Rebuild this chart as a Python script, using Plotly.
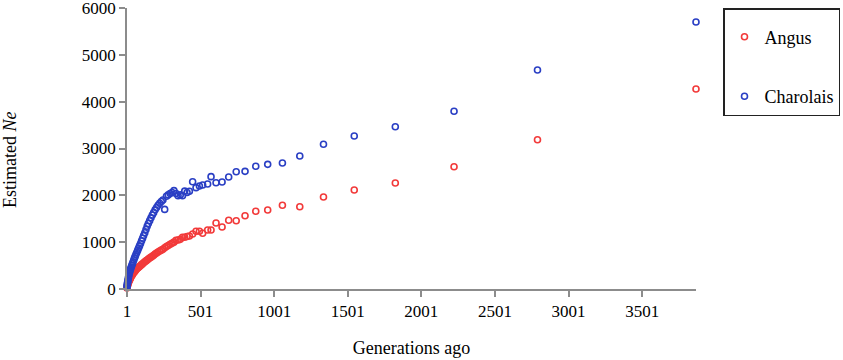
import plotly.graph_objects as go

# Generations ago (shared bins for both breeds)
generations = [1, 2, 3, 4, 5, 6, 8, 10, 12, 14, 17, 20, 23, 26, 30, 34, 38, 42, 47, 52,
               57, 62, 68, 74, 80, 86, 93, 100, 107, 114, 122, 130, 138, 146, 155, 164,
               173, 182, 192, 202, 212, 223, 234, 245, 257, 269, 281, 294, 307, 320, 334,
               348, 363, 378, 393, 409, 425, 447, 470, 493, 515, 549, 572, 606, 647, 692,
               743, 803, 876, 957, 1057, 1175, 1336, 1545, 1824, 2223, 2790, 3867]

angus_ne = [20, 40, 55, 70, 85, 95, 115, 135, 150, 165, 185, 205, 225, 245, 270, 290,
            310, 330, 350, 370, 390, 410, 430, 450, 465, 480, 500, 520, 540, 560, 580,
            600, 620, 640, 660, 680, 700, 720, 745, 770, 790, 810, 830, 850, 880, 905,
            930, 955, 975, 1000, 1040, 1046, 1060, 1104, 1104, 1120, 1132, 1174, 1232,
            1232, 1189, 1260, 1260, 1409, 1324, 1467, 1459, 1565, 1659, 1687, 1787, 1758,
            1965, 2114, 2264, 2612, 3188, 4271]

charolais_ne = [40, 70, 95, 120, 140, 160, 195, 230, 265, 300, 340, 375, 405, 435, 470,
                505, 540, 575, 620, 660, 700, 740, 785, 830, 875, 920, 970, 1030, 1085,
                1140, 1200, 1270, 1340, 1400, 1460, 1520, 1580, 1630, 1690, 1740, 1790,
                1830, 1870, 1900, 1700, 1980, 2010, 2040, 2060, 2100, 2040, 1990, 2010,
                1990, 2090, 2060, 2086, 2291, 2164, 2200, 2220, 2242, 2399, 2270, 2285,
                2392, 2505, 2513, 2620, 2662, 2690, 2840, 3090, 3267, 3466, 3795, 4677,
                5701]

x_ticks = [1, 501, 1001, 1501, 2001, 2501, 3001, 3501]
y_ticks = [0, 1000, 2000, 3000, 4000, 5000, 6000]

FONT = "Liberation Serif, Times New Roman, serif"
AXIS_COLOR = "#8c8c8c"

fig = go.Figure()
fig.add_trace(go.Scatter(
    x=generations, y=angus_ne, mode="markers", name="Angus", legendgroup="a",
    marker=dict(symbol="circle-open", size=6, color="#f23a3a", line=dict(width=1.6)),
    cliponaxis=False))
fig.add_trace(go.Scatter(
    x=generations, y=charolais_ne, mode="markers", name="Charolais", legendgroup="c",
    marker=dict(symbol="circle-open", size=6, color="#2a3fc4", line=dict(width=1.6)),
    cliponaxis=False))

fig.update_layout(
    width=843, height=360,
    margin=dict(l=127, r=147, t=8, b=71, autoexpand=False),
    paper_bgcolor="white", plot_bgcolor="white",
    font=dict(family=FONT, size=18, color="black"),
    showlegend=True,
    legend=dict(x=(840 - 127) / 569, y=1.0, xanchor="right", yanchor="top",
                bordercolor="#222222", borderwidth=1.5, bgcolor="white",
                tracegroupgap=33, font=dict(family=FONT, size=18, color="black"),
                title=dict(text=" ", font=dict(size=7))),
    xaxis=dict(range=[1, 3867], tickmode="array", tickvals=x_ticks,
               ticktext=[str(v) for v in x_ticks], automargin=False,
               ticklabeloverflow="allow",
               showline=True, linecolor=AXIS_COLOR, linewidth=1.5,
               ticks="outside", ticklen=6, tickcolor=AXIS_COLOR, tickwidth=1.5,
               showgrid=False, zeroline=False,
               tickfont=dict(family=FONT, size=17, color="black"),
               title=dict(text="Generations ago", standoff=21,
                          font=dict(family=FONT, size=18, color="black"))),
    yaxis=dict(range=[0, 6001], tickmode="array", tickvals=y_ticks, automargin=False,
               ticklabeloverflow="allow",
               showline=True, linecolor=AXIS_COLOR, linewidth=1.5,
               ticks="outside", ticklen=6, tickcolor=AXIS_COLOR, tickwidth=1.5,
               showgrid=False, zeroline=False,
               tickfont=dict(family=FONT, size=17, color="black")),
    annotations=[dict(text="Estimated <i>Ne</i>", textangle=-90, showarrow=False,
                      xref="paper", yref="paper", x=(10 - 127) / 569, y=(289 - 160) / 281,
                      xanchor="center", yanchor="middle",
                      font=dict(family=FONT, size=18, color="black"))],
)

fig.write_html("out.html", config={"displayModeBar": False},
               post_script="document.body.style.margin='0';")
